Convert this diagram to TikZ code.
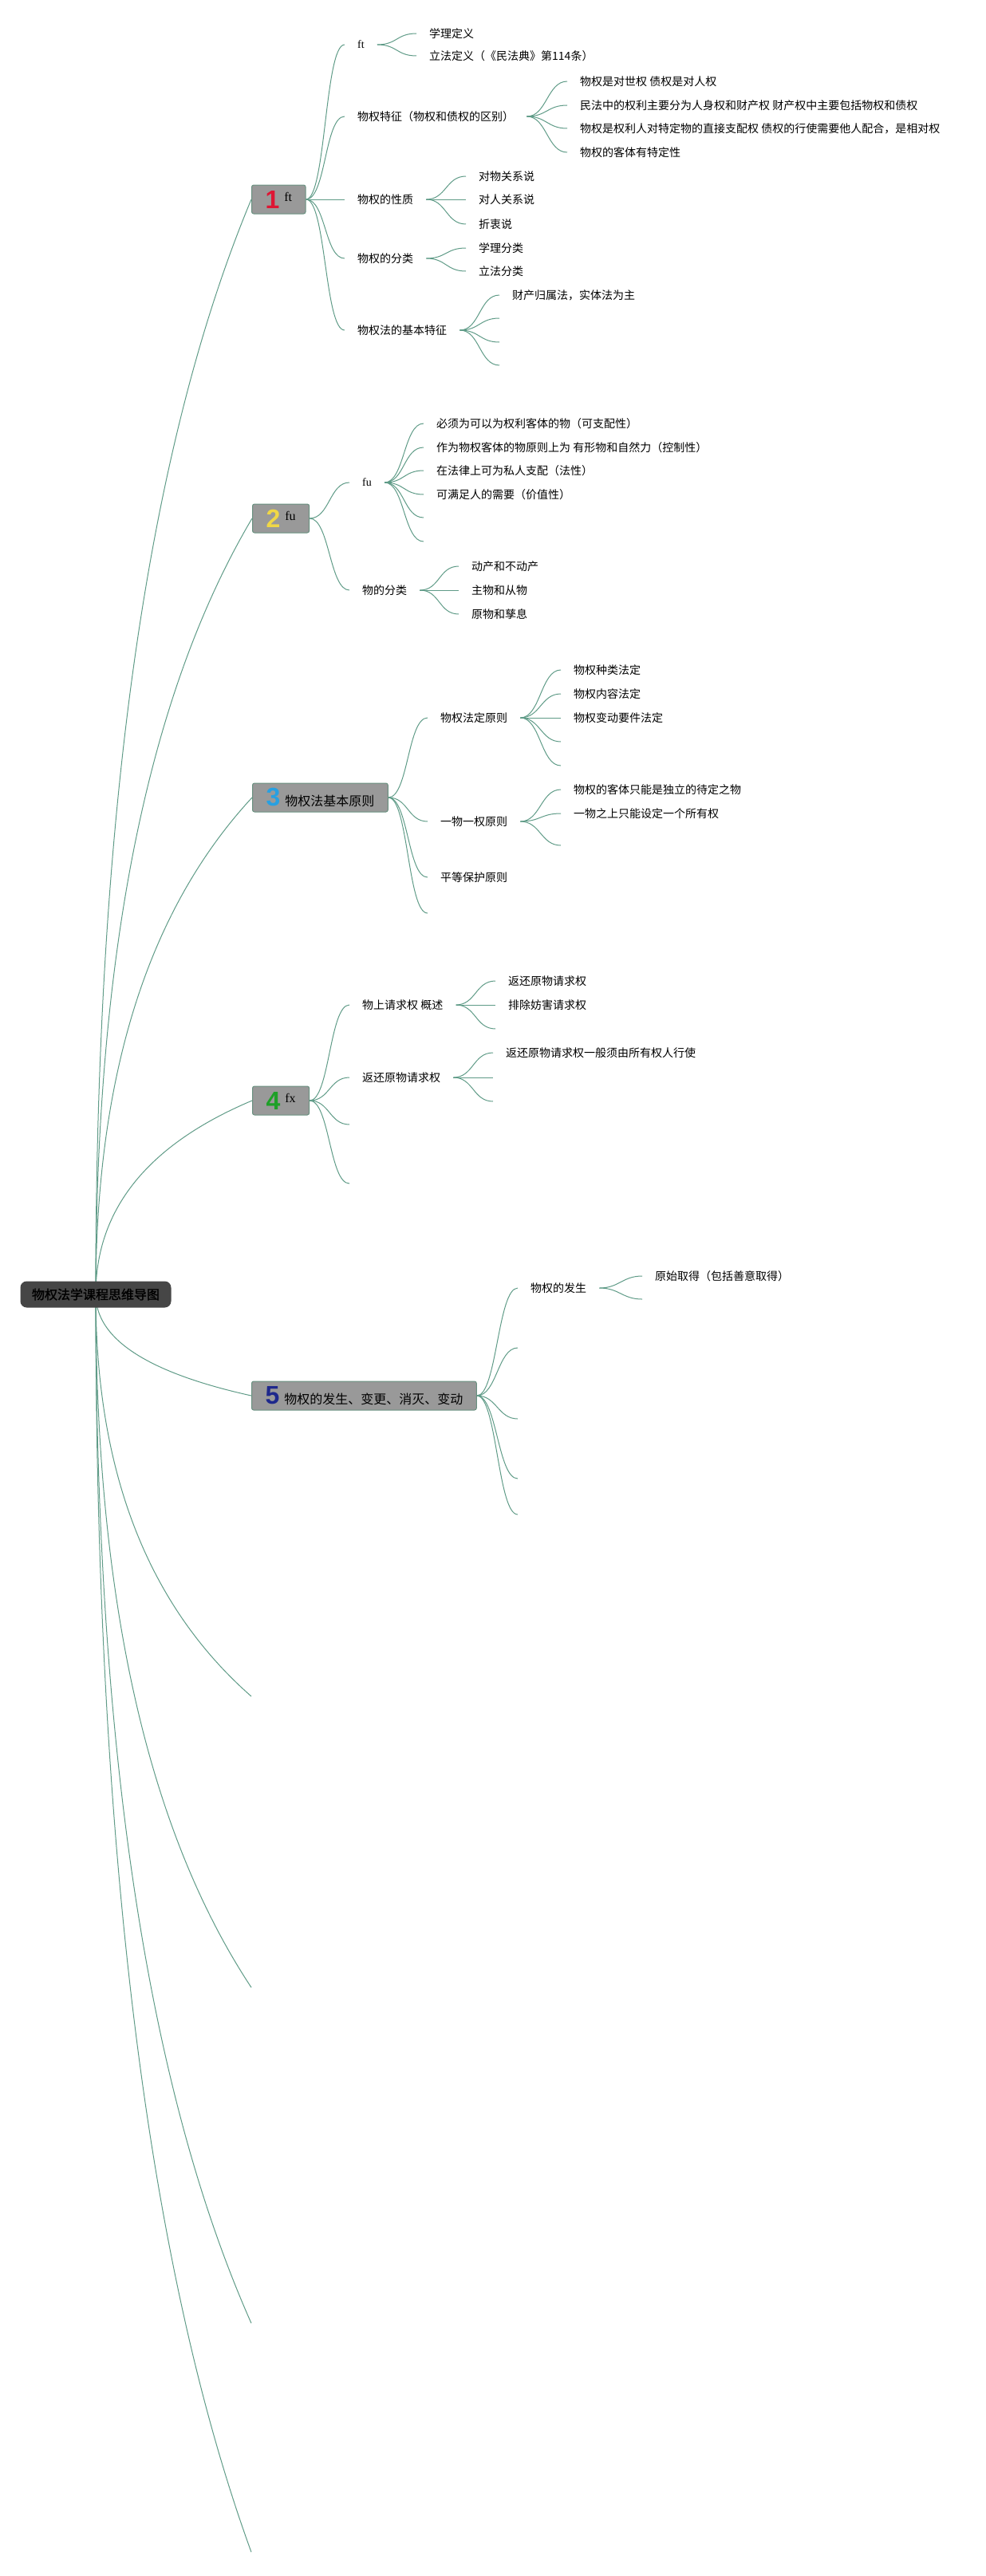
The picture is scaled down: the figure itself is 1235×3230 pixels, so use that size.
\documentclass[tikz,border=0pt]{standalone}
\usepackage{fontspec}
\setmainfont{Noto Sans CJK SC}
\newfontfamily\latinfont{Liberation Serif}
\newfontfamily\numfont{Liberation Sans}
\newfontfamily\rootfont{Noto Sans CJK SC}[FakeBold=1.6]
\usetikzlibrary{calc,backgrounds}

\definecolor{linecol}{RGB}{95,155,135}
\definecolor{boxgray}{RGB}{153,153,153}
\definecolor{boxline}{RGB}{105,145,128}
\definecolor{rootgray}{RGB}{70,70,70}
\definecolor{num1}{RGB}{222,22,52}
\definecolor{num2}{RGB}{240,215,70}
\definecolor{num3}{RGB}{40,160,225}
\definecolor{num4}{RGB}{30,160,40}
\definecolor{num5}{RGB}{30,40,140}

\newcommand{\topicnum}[2]{{\numfont\bfseries\fontsize{32pt}{32pt}\selectfont\color{#1}#2}\hspace{6pt}}
\newcommand{\ftmark}[1]{\raisebox{9pt}{\latinfont #1}}

\tikzset{
  root/.style={fill=rootgray, rounded corners=8pt, minimum width=189pt, minimum height=33pt,
    inner sep=0pt, font=\fontsize{16pt}{19pt}\rootfont},
  topic/.style={anchor=west, fill=boxgray, draw=boxline, line width=1pt, rounded corners=2.5pt,
    minimum height=36pt, inner xsep=17pt, inner ysep=0pt, font=\fontsize{16pt}{19pt}\selectfont},
  leaf/.style={anchor=west, inner xsep=16pt, inner ysep=3pt, font=\fontsize{14pt}{17pt}\selectfont},
  trunk/.style={draw=linecol, line width=1pt,
    to path={let \p1=(\tikztostart), \p2=(\tikztotarget) in
      .. controls (\x1,{\y1+0.44*(\y2-(\y1))}) and ({\x2-0.6667*(\x2-(\x1))},{\y2-0.2267*(\y2-(\y1))}) .. (\tikztotarget)}},
  twig/.style={draw=linecol, line width=1pt,
    to path={.. controls +(25,0) and +(-25,0) .. (\tikztotarget)}},
}

\begin{document}
\begin{tikzpicture}[x=1pt,y=-1pt]
            \useasboundingbox (0,0) rectangle (1235,3230);
            \draw (120,1623) node[root] (rt) {物权法学课程思维导图};
            % 1
            \draw (315,250) node[topic] (b1) {\topicnum{num1}{1}\ftmark{ft}};
            \draw (432,56) node[leaf] (b1a) {\latinfont ft};
            \draw (432,146) node[leaf] (b1b) {物权特征（物权和债权的区别）};
            \draw (432,250) node[leaf] (b1c) {物权的性质};
            \draw (432,324) node[leaf] (b1d) {物权的分类};
            \draw (432,414) node[leaf] (b1e) {物权法的基本特征};
            \draw (522,42) node[leaf] (b1a1) {学理定义};
            \draw (522,70) node[leaf] (b1a2) {立法定义（《民法典》第114条）};
            \draw (711,102) node[leaf] (b1b1) {物权是对世权 债权是对人权};
            \draw (711,132) node[leaf] (b1b2) {民法中的权利主要分为人身权和财产权 财产权中主要包括物权和债权};
            \draw (711,161) node[leaf] (b1b3) {物权是权利人对特定物的直接支配权 债权的行使需要他人配合，是相对权};
            \draw (711,191) node[leaf] (b1b4) {物权的客体有特定性};
            \draw (584,221) node[leaf] (b1c1) {对物关系说};
            \draw (584,250) node[leaf] (b1c2) {对人关系说};
            \draw (584,281) node[leaf] (b1c3) {折衷说};
            \draw (584,311) node[leaf] (b1d1) {学理分类};
            \draw (584,340) node[leaf] (b1d2) {立法分类};
            \draw (626,370) node[leaf] (b1e1) {财产归属法，实体法为主};
            \coordinate (b1e2) at (626,399);
            \coordinate (b1e3) at (626,429);
            \coordinate (b1e4) at (626,458);
            % 2
            \draw (316,650) node[topic] (b2) {\topicnum{num2}{2}\ftmark{fu}};
            \draw (438,605) node[leaf] (b2a) {\latinfont fu};
            \draw (438,740) node[leaf] (b2b) {物的分类};
            \draw (531,531) node[leaf] (b2a1) {必须为可以为权利客体的物（可支配性）};
            \draw (531,561) node[leaf] (b2a2) {作为物权客体的物原则上为 有形物和自然力（控制性）};
            \draw (531,590) node[leaf] (b2a3) {在法律上可为私人支配（法性）};
            \draw (531,620) node[leaf] (b2a4) {可满足人的需要（价值性）};
            \coordinate (b2a5) at (531,649);
            \coordinate (b2a6) at (531,679);
            \draw (575,710) node[leaf] (b2b1) {动产和不动产};
            \draw (575,740) node[leaf] (b2b2) {主物和从物};
            \draw (575,770) node[leaf] (b2b3) {原物和孳息};
            % 3
            \draw (316,1000) node[topic] (b3) {\topicnum{num3}{3}物权法基本原则};
            \draw (536,900) node[leaf] (b3a) {物权法定原则};
            \draw (536,1030) node[leaf] (b3b) {一物一权原则};
            \draw (536,1100) node[leaf] (b3c) {平等保护原则};
            \coordinate (b3d) at (536,1145);
            \draw (703,840) node[leaf] (b3a1) {物权种类法定};
            \draw (703,870) node[leaf] (b3a2) {物权内容法定};
            \draw (703,900) node[leaf] (b3a3) {物权变动要件法定};
            \coordinate (b3a4) at (703,930);
            \coordinate (b3a5) at (703,960);
            \draw (703,990) node[leaf] (b3b1) {物权的客体只能是独立的待定之物};
            \draw (703,1020) node[leaf] (b3b2) {一物之上只能设定一个所有权};
            \coordinate (b3b3) at (703,1060);
            % 4
            \draw (316,1380) node[topic] (b4) {\topicnum{num4}{4}\ftmark{fx}};
            \draw (438,1260) node[leaf] (b4a) {物上请求权 概述};
            \draw (438,1351) node[leaf] (b4b) {返还原物请求权};
            \coordinate (b4c) at (438,1410);
            \coordinate (b4d) at (438,1484);
            \draw (621,1230) node[leaf] (b4a1) {返还原物请求权};
            \draw (621,1260) node[leaf] (b4a2) {排除妨害请求权};
            \coordinate (b4a3) at (621,1290);
            \draw (618,1320) node[leaf] (b4b1) {返还原物请求权一般须由所有权人行使};
            \coordinate (b4b2) at (618,1351);
            \coordinate (b4b3) at (618,1381);
            % 5
            \draw (315,1750) node[topic] (b5) {\topicnum{num5}{5}物权的发生、变更、消灭、变动};
            \draw (649,1615) node[leaf] (b5a) {物权的发生};
            \coordinate (b5b) at (649,1690);
            \coordinate (b5c) at (649,1779);
            \coordinate (b5d) at (649,1854);
            \coordinate (b5e) at (649,1899);
            \draw (805,1600) node[leaf] (b5a1) {原始取得（包括善意取得）};
            \coordinate (b5a2) at (805,1629);
            % empty ones below
            \coordinate (b6) at (315,2127);
            \coordinate (b7) at (315,2492);
            \coordinate (b8) at (315,2913);
            \coordinate (b9) at (315,3200);
            \begin{scope}[on background layer]
            \draw[trunk] (rt.center) to (b1.west);
            \draw[trunk] (rt.center) to (b2.west);
            \draw[trunk] (rt.center) to (b3.west);
            \draw[trunk] (rt.center) to (b4.west);
            \draw[trunk] (rt.center) to (b5.west);
            \draw[trunk] (rt.center) to (b6);
            \draw[trunk] (rt.center) to (b7);
            \draw[trunk] (rt.center) to (b8);
            \draw[trunk] (rt.center) to (b9);
            \draw[twig] (b1.east) to (b1a.west);
            \draw[twig] (b1.east) to (b1b.west);
            \draw[twig] (b1.east) to (b1c.west);
            \draw[twig] (b1.east) to (b1d.west);
            \draw[twig] (b1.east) to (b1e.west);
            \draw[twig] (b1a.east) to (b1a1.west);
            \draw[twig] (b1a.east) to (b1a2.west);
            \draw[twig] (b1b.east) to (b1b1.west);
            \draw[twig] (b1b.east) to (b1b2.west);
            \draw[twig] (b1b.east) to (b1b3.west);
            \draw[twig] (b1b.east) to (b1b4.west);
            \draw[twig] (b1c.east) to (b1c1.west);
            \draw[twig] (b1c.east) to (b1c2.west);
            \draw[twig] (b1c.east) to (b1c3.west);
            \draw[twig] (b1d.east) to (b1d1.west);
            \draw[twig] (b1d.east) to (b1d2.west);
            \draw[twig] (b1e.east) to (b1e1.west);
            \draw[twig] (b1e.east) to (b1e2);
            \draw[twig] (b1e.east) to (b1e3);
            \draw[twig] (b1e.east) to (b1e4);
            \draw[twig] (b2.east) to (b2a.west);
            \draw[twig] (b2.east) to (b2b.west);
            \draw[twig] (b2a.east) to (b2a1.west);
            \draw[twig] (b2a.east) to (b2a2.west);
            \draw[twig] (b2a.east) to (b2a3.west);
            \draw[twig] (b2a.east) to (b2a4.west);
            \draw[twig] (b2a.east) to (b2a5);
            \draw[twig] (b2a.east) to (b2a6);
            \draw[twig] (b2b.east) to (b2b1.west);
            \draw[twig] (b2b.east) to (b2b2.west);
            \draw[twig] (b2b.east) to (b2b3.west);
            \draw[twig] (b3.east) to (b3a.west);
            \draw[twig] (b3.east) to (b3b.west);
            \draw[twig] (b3.east) to (b3c.west);
            \draw[twig] (b3.east) to (b3d);
            \draw[twig] (b3a.east) to (b3a1.west);
            \draw[twig] (b3a.east) to (b3a2.west);
            \draw[twig] (b3a.east) to (b3a3.west);
            \draw[twig] (b3a.east) to (b3a4);
            \draw[twig] (b3a.east) to (b3a5);
            \draw[twig] (b3b.east) to (b3b1.west);
            \draw[twig] (b3b.east) to (b3b2.west);
            \draw[twig] (b3b.east) to (b3b3);
            \draw[twig] (b4.east) to (b4a.west);
            \draw[twig] (b4.east) to (b4b.west);
            \draw[twig] (b4.east) to (b4c);
            \draw[twig] (b4.east) to (b4d);
            \draw[twig] (b4a.east) to (b4a1.west);
            \draw[twig] (b4a.east) to (b4a2.west);
            \draw[twig] (b4a.east) to (b4a3);
            \draw[twig] (b4b.east) to (b4b1.west);
            \draw[twig] (b4b.east) to (b4b2);
            \draw[twig] (b4b.east) to (b4b3);
            \draw[twig] (b5.east) to (b5a.west);
            \draw[twig] (b5.east) to (b5b);
            \draw[twig] (b5.east) to (b5c);
            \draw[twig] (b5.east) to (b5d);
            \draw[twig] (b5.east) to (b5e);
            \draw[twig] (b5a.east) to (b5a1.west);
            \draw[twig] (b5a.east) to (b5a2);
            \end{scope}
         \end{tikzpicture}
\end{document}
